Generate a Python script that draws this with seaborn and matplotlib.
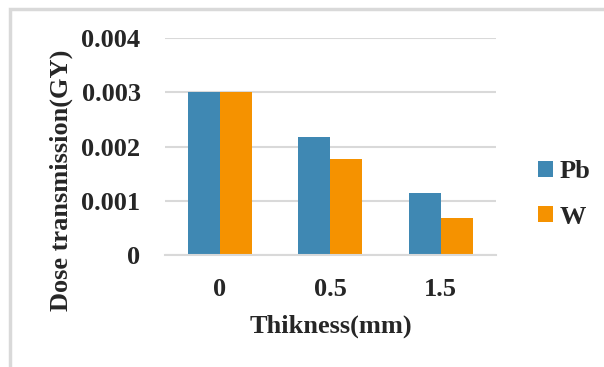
import pandas as pd
import matplotlib.pyplot as plt
import seaborn as sns
from matplotlib.patches import Rectangle

# values
thickness = ['0', '0.5', '1.5']
pb_dose = [0.0030, 0.00217, 0.00114]
w_dose = [0.0030, 0.00177, 0.00068]
y_ticks = [0, 0.001, 0.002, 0.003, 0.004]
y_tick_labels = ['0', '0.001', '0.002', '0.003', '0.004']

df = pd.DataFrame({
    'Thickness': thickness * 2,
    'Dose': pb_dose + w_dose,
    'Material': ['Pb'] * len(thickness) + ['W'] * len(thickness),
})

sns.set_style('white')
plt.rcParams['font.family'] = ['Liberation Serif', 'DejaVu Serif']
plt.rcParams['font.weight'] = 'bold'

fs = 19
fig = plt.figure(figsize=(6.04, 3.67), dpi=100)
ax = fig.add_axes([0.273, 0.305, 0.548, 0.591])

sns.barplot(data=df, x='Thickness', y='Dose', hue='Material',
            palette=['#3F88B3', '#F59200'], width=0.58, gap=0,
            saturation=1, edgecolor='none', ax=ax, legend=True)

ax.set_ylim(0, 0.004)
ax.set_xlim(-0.5, 2.5)
ax.set_yticks(y_ticks)
ax.set_yticklabels(y_tick_labels, fontsize=fs, fontweight='bold')
for lbl in ax.get_xticklabels():
    lbl.set_fontsize(fs)
    lbl.set_fontweight('bold')
ax.tick_params(axis='y', length=0, pad=17.5)
ax.tick_params(axis='x', length=0, pad=16.5)
ax.set_xticks([-0.5, 0.5, 1.5, 2.5], minor=True)
ax.tick_params(axis='x', which='minor', length=7, width=1.5, color='#d9d9d9')

ax.grid(axis='y', color='#d9d9d9', linewidth=1.5)
ax.set_axisbelow(True)
for side in ['top', 'right', 'left']:
    ax.spines[side].set_visible(False)
ax.spines['bottom'].set_color('#d9d9d9')
ax.spines['bottom'].set_linewidth(1.5)

ax.set_xlabel('Thikness(mm)', fontsize=fs, fontweight='bold', labelpad=10)
ax.set_ylabel('Dose transmission(GY)', fontsize=fs, fontweight='bold')
ax.yaxis.set_label_coords(-0.278, 0.345)

handles, labels = ax.get_legend_handles_labels()
ax.legend_.remove()
fig.legend(handles, labels, loc='center left', bbox_to_anchor=(0.852, 0.47),
           frameon=False, handlelength=0.55, handleheight=0.55,
           handletextpad=0.25, labelspacing=0.85, prop={'weight': 'bold', 'size': fs})

# outer chart frame
fig.add_artist(Rectangle((0.017, -0.05), 1.1, 1.025, transform=fig.transFigure,
                         fill=False, edgecolor='#d9d9d9', linewidth=2.5))

fig.savefig('out.png', dpi=100)
